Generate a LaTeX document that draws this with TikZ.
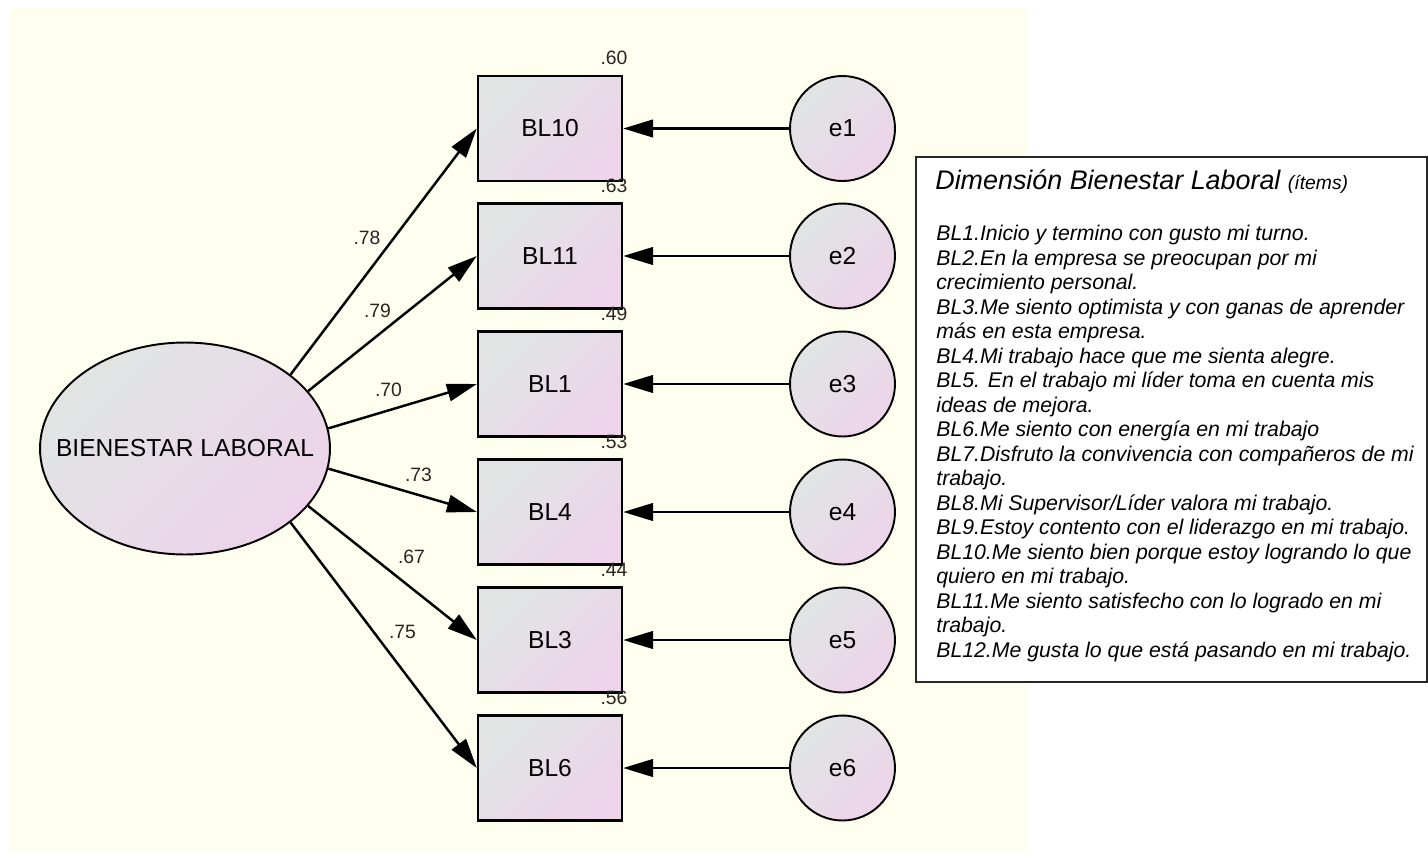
\documentclass[tikz,border=0pt]{standalone}
\usepackage{fontspec}
\setmainfont{Liberation Sans}
\usetikzlibrary{arrows.meta,shapes.geometric}
\definecolor{cream}{RGB}{255,255,240}
\definecolor{gA}{RGB}{224,229,227}
\definecolor{gB}{RGB}{237,212,234}
\definecolor{legline}{RGB}{40,40,40}
\tikzset{
  grad/.style={top color=gA, bottom color=gB, shading angle=45},
  obsbox/.style={rectangle, draw=black, line width=1.4pt, grad, minimum width=2.88cm, minimum height=2.1cm, inner sep=0pt, font=\fontsize{14}{16}\selectfont},
  errc/.style={circle, draw=black, line width=1.1pt, grad, minimum size=2.1cm, inner sep=0pt, font=\fontsize{14}{16}\selectfont},
  latent/.style={ellipse, draw=black, line width=1.1pt, grad, minimum width=5.8cm, minimum height=4.24cm, inner sep=0pt, font=\fontsize{14}{16}\selectfont},
  regarrow/.style={-{Triangle[length=17pt,width=10pt]}, line width=1.4pt},
  coef/.style={font=\fontsize{11}{13}\selectfont, inner sep=0pt, text=black!85},
  legtxt/.style={font=\itshape\fontsize{12.1}{14}\selectfont, inner sep=0pt, anchor=base west}
}
\begin{document}
\begin{tikzpicture}[x=0.02cm,y=-0.02cm]
  \useasboundingbox (0,0) rectangle (1428,856);
  \fill[white] (0,0) rectangle (1428,856);
  \fill[cream] (9,8) rectangle (1028,852);

  % latent variable
  \node[latent] (lat) at (185,448.5) {\makebox[0pt][c]{BIENESTAR LABORAL}};

  % observed boxes and error terms
  \foreach \nm/\lab/\yy/\err in {b1/BL10/128.5/e1, b2/BL11/256/e2, b3/BL1/384/e3, b4/BL4/512/e4, b5/BL3/640/e5, b6/BL6/768/e6}{
    \node[obsbox] (\nm) at (550,\yy) {\lab};
    \node[errc] (\err) at (842.5,\yy) {\err};
    \draw[regarrow] (\err.west) -- (\nm.east);
  }

  % squared multiple correlations
  \node[coef] (r1) at (614,58) {.60};
  \node[coef] (r2) at (614,186) {.63};
  \node[coef] (r3) at (614,314) {.49};
  \node[coef] (r4) at (614,442) {.53};
  \node[coef] (r5) at (614,570) {.44};
  \node[coef] (r6) at (614,698) {.56};

  % loadings
  \draw[regarrow] (lat.35.7) -- (b1.west);
  \draw[regarrow] (lat.25.3) -- (b2.west);
  \draw[regarrow] (lat.8.6) -- (b3.west);
  \draw[regarrow] (lat.-8.6) -- (b4.west);
  \draw[regarrow] (lat.-25.3) -- (b5.west);
  \draw[regarrow] (lat.-35.7) -- (b6.west);

  \node[coef] (l1) at (367,238) {.78};
  \node[coef] (l2) at (377.5,310.5) {.79};
  \node[coef] (l3) at (388.5,390) {.70};
  \node[coef] (l4) at (418.5,475) {.73};
  \node[coef] (l5) at (411.5,557) {.67};
  \node[coef] (l6) at (402.5,632) {.75};

  % legend
  \node[rectangle, draw=legline, line width=0.7pt, fill=white, minimum width=10.22cm, minimum height=10.5cm, inner sep=0pt] (legend) at (1171.5,419.5) {};
  \node[anchor=base west, inner sep=0pt, font=\itshape\fontsize{15.3}{18}\selectfont] (title) at (935,189) {Dimensión Bienestar Laboral {\fontsize{11}{13}\selectfont (ítems)}};
  \foreach \t [count=\i] in {
    BL1.Inicio y termino con gusto mi turno.,
    BL2.En la empresa se preocupan por mi,
    crecimiento personal.,
    BL3.Me siento optimista y con ganas de aprender,
    más en esta empresa.,
    BL4.Mi trabajo hace que me sienta alegre.,
    BL5. En el trabajo mi líder toma en cuenta mis,
    ideas de mejora.,
    BL6.Me siento con energía en mi trabajo,
    BL7.Disfruto la convivencia con compañeros de mi,
    trabajo.,
    BL8.Mi Supervisor/Líder valora mi trabajo.,
    BL9.Estoy contento con el liderazgo en mi trabajo.,
    BL10.Me siento bien porque estoy logrando lo que,
    quiero en mi trabajo.,
    BL11.Me siento satisfecho con lo logrado en mi,
    trabajo.,
    BL12.Me gusta lo que está pasando en mi trabajo.}{
    \node[legtxt] (t\i) at (936,{240.5+(\i-1)*24.5}) {\t};
  }
\end{tikzpicture}
\end{document}
